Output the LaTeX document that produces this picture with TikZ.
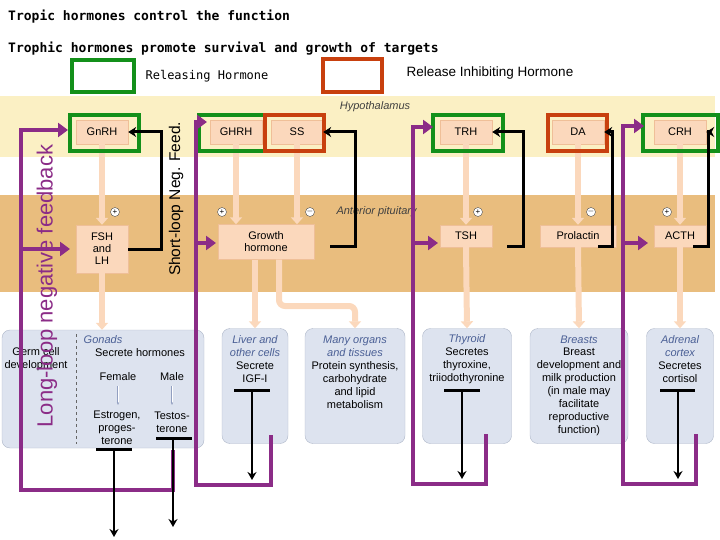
\documentclass[tikz,border=0pt]{standalone}
\usepackage{fontspec}
\setmainfont{Liberation Sans}
\newfontfamily\monob{DejaVu Sans Mono}
\usetikzlibrary{arrows.meta}
\definecolor{hyp}{HTML}{FBF0C4}
\definecolor{pit}{HTML}{E9BD7E}
\definecolor{peach}{HTML}{FBD8BC}
\definecolor{peachb}{HTML}{EFBF98}
\definecolor{tgt}{HTML}{DDE3EF}
\definecolor{tgtb}{HTML}{AEB7C9}
\definecolor{purp}{HTML}{8B2C87}
\definecolor{grn}{HTML}{13901A}
\definecolor{org}{HTML}{C8400E}
\definecolor{bluet}{HTML}{4A5F95}
\tikzset{
  hbox/.style={draw=peachb,fill=peach,font=\fontsize{11}{12}\selectfont,inner sep=0pt,align=center},
  tbox/.style={draw=tgtb,fill=tgt,rounded corners=8pt,inner sep=0pt},
  ttxt/.style={font=\fontsize{11}{13}\selectfont,align=center,inner sep=0pt},
  ital/.style={font=\fontsize{11}{13}\selectfont\itshape,text=bluet,align=center,inner sep=0pt},
  gfr/.style={draw=grn,line width=3.5pt},
  ofr/.style={draw=org,line width=3.5pt},
  pale/.style={draw=peach,line width=6pt,rounded corners=6pt,-{Triangle[length=7pt,width=12pt]}},
  ploop/.style={draw=purp,line width=4pt},
  parr/.style={draw=purp,line width=4pt,-{Triangle[length=10pt,width=14pt]}},
  bloop/.style={draw=black,line width=3pt,-{Stealth[length=8pt,width=10pt]}},
  bbar/.style={draw=black,line width=3pt},
  barr/.style={draw=black,line width=2.5pt,-{Stealth[length=8pt,width=9pt]}},
  pm/.style={circle,draw=black!70,fill=white,inner sep=0pt,minimum size=9pt,font=\fontsize{8}{8}\selectfont}
}
\begin{document}
\begin{tikzpicture}[x=1pt,y=-1pt]
\useasboundingbox (0,0) rectangle (720,540);
% bands
\fill[hyp] (0,96) rectangle (715,157);
\fill[pit] (0,195) rectangle (715,292);
\node[font=\fontsize{11}{11}\selectfont\itshape,text=black!75] (hyplab) at (375,107) {Hypothalamus};
\node[font=\fontsize{11}{11}\selectfont\itshape,text=black!75,anchor=west] (pitlab) at (333,212) {Anterior pituitary};
% titles
\node[anchor=west,font=\monob\bfseries\fontsize{13}{13}\selectfont,inner sep=0pt] (t1) at (8,17) {Tropic hormones control the function};
\node[anchor=west,font=\monob\bfseries\fontsize{13}{13}\selectfont,inner sep=0pt] (t2) at (8,49) {Trophic hormones promote survival and growth of targets};
% legend
\draw[gfr] (72,60) rectangle (134,92);
\node[font=\monob\fontsize{12}{12}\selectfont] (rl) at (207,76) {Releasing Hormone};
\draw[ofr] (323,59) rectangle (382,92);
\node[font=\fontsize{13.5}{14}\selectfont] (ril) at (490,73) {Release Inhibiting Hormone};
% target boxes
\node[tbox,minimum width=202pt,minimum height=118pt] (gon) at (103,389) {};
\draw[dashed,black!60] (76,334) -- (76,444);
\node[tbox,minimum width=66pt,minimum height=115pt] (liv) at (255,386) {};
\node[tbox,minimum width=100pt,minimum height=115pt] (many) at (355,386) {};
\node[tbox,minimum width=89pt,minimum height=115pt] (thy) at (467,386) {};
\node[tbox,minimum width=98pt,minimum height=115pt] (brs) at (579,386) {};
\node[tbox,minimum width=67pt,minimum height=115pt] (adr) at (680,386) {};
% hormone boxes
\node[hbox,minimum width=52pt,minimum height=24pt] (gnrh) at (102,132) {GnRH};
\node[hbox,minimum width=52pt,minimum height=24pt] (ghrh) at (236,132) {GHRH};
\node[hbox,minimum width=52pt,minimum height=24pt] (ss) at (297,132) {SS};
\node[hbox,minimum width=52pt,minimum height=24pt] (trh) at (466,132) {TRH};
\node[hbox,minimum width=52pt,minimum height=24pt] (da) at (578,132) {DA};
\node[hbox,minimum width=52pt,minimum height=24pt] (crh) at (680,132) {CRH};
\node[hbox,minimum width=52pt,minimum height=48pt] (fsh) at (102,249) {FSH\\and\\LH};
\node[hbox,minimum width=96pt,minimum height=35pt] (gh) at (266,242) {Growth\\hormone};
\node[hbox,minimum width=52pt,minimum height=22pt] (tsh) at (466,236) {TSH};
\node[hbox,minimum width=76pt,minimum height=22pt] (prl) at (578,236) {Prolactin};
\node[hbox,minimum width=52pt,minimum height=22pt] (acth) at (680,236) {ACTH};
% pale arrows
\draw[pale] (gnrh.south) -- (fsh.north);
\draw[pale] (ghrh.south) -- (ghrh.south |- gh.north);
\draw[pale] (ss.south) -- (ss.south |- gh.north);
\draw[pale] (trh.south) -- (tsh.north);
\draw[pale] (da.south) -- (prl.north);
\draw[pale] (crh.south) -- (acth.north);
\draw[pale] (fsh.south) -- (fsh.south |- gon.north);
\draw[pale] (liv.north |- gh.south) -- (liv.north);
\draw[pale] (279,259.5) -- (279,306) -- (355,306) -- (many.north);
\draw[pale] (tsh.south) -- (thy.north);
\draw[pale] (prl.south) -- (brs.north);
\draw[pale] (acth.south) -- (adr.north);
% plus/minus
\node[pm] (p1) at (115,212) {+};
\node[pm] (p2) at (222,212) {+};
\node[pm] (m1) at (310,212) {$-$};
\node[pm] (p3) at (478,212) {+};
\node[pm] (m2) at (591,212) {$-$};
\node[pm] (p4) at (667,212) {+};
% frames
\draw[gfr] (70,115) rectangle (139,151);
\draw[gfr] (199,115) rectangle (265,151);
\draw[ofr] (265,115) rectangle (324,151);
\draw[gfr] (433,115) rectangle (503,151);
\draw[ofr] (548,115) rectangle (607,151);
\draw[gfr] (643,115) rectangle (718,151);
% target texts
\node[ital] (g1) at (103,340) {Gonads};
\node[ttxt] (g2) at (140,353) {Secrete hormones};
\node[ttxt] (g3) at (36,359) {Germ cell\\development};
\node[ttxt] (g4) at (118,377) {Female};
\node[ttxt] (g5) at (172,377) {Male};
\draw[bluet!60,double,-{Stealth[length=3pt]}] (118,386) -- (118,405);
\draw[bluet!60,double,-{Stealth[length=3pt]}] (172,386) -- (172,405);
\node[ttxt] (est) at (117,428) {Estrogen,\\proges-\\terone};
\node[ttxt] (tes) at (172,422) {Testos-\\terone};
\node[ital] (l1) at (255,346) {Liver and\\other cells};
\node[ttxt] (l2) at (255,372) {Secrete\\IGF-I};
\node[ital] (m1t) at (355,346) {Many organs\\and tissues};
\node[ttxt] (m2t) at (355,385) {Protein synthesis,\\carbohydrate\\and lipid\\metabolism};
\node[ital] (th1) at (467,340) {Thyroid};
\node[ttxt] (th2) at (467,366) {Secretes\\thyroxine,\\triiodothyronine};
\node[ital] (b1) at (579,340) {Breasts};
\node[ttxt] (b2) at (579,392) {Breast\\development and\\milk production\\(in male may\\facilitate\\reproductive\\function)};
\node[ital] (a1) at (680,346) {Adrenal\\cortex};
\node[ttxt] (a2) at (680,372) {Secretes\\cortisol};
% short loops
\draw[bloop] (fsh.east) -- (161,249) -- (161,132) -- (gnrh.east);
\draw[bloop] (330,246) -- (355,246) -- (355,132) -- (ss.east);
\draw[bloop] (507,246) -- (523,246) -- (523,132) -- (trh.east);
\draw[bloop] (598,246) -- (612,246) -- (612,132) -- (da.east);
\draw[bloop] (693,246) -- (708,246) -- (708,132) -- (crh.east);
% long loops
\draw[ploop] (21,130) -- (21,490) -- (173,490) -- (173,450);
\draw[parr] (19,130) -- (68,130);
\draw[parr] (19,249) -- (70,249);
\draw[ploop] (196,122) -- (196,485) -- (271,485) -- (271,435);
\draw[parr] (194,122) -- (207,122);
\draw[parr] (194,243) -- (216,243);
\draw[ploop] (413,127) -- (413,484) -- (486,484) -- (486,434);
\draw[parr] (411,127) -- (433,127);
\draw[parr] (411,243) -- (438,243);
\draw[ploop] (623,126) -- (623,484) -- (696,484) -- (696,434);
\draw[parr] (621,126) -- (644,126);
\draw[parr] (621,243) -- (648,243);
% T bars and down arrows
\draw[bbar] (96,449) -- (132,449);
\draw[barr] (114,449) -- (114,537);
\draw[bbar] (156,438) -- (192,438);
\draw[barr] (173,438) -- (173,527);
\draw[bbar] (234,390) -- (270,390);
\draw[barr] (252,390) -- (252,480);
\draw[bbar] (444,390) -- (480,390);
\draw[barr] (462,390) -- (462,479);
\draw[bbar] (660,390) -- (695,390);
\draw[barr] (678,390) -- (678,479);
% rotated labels
\node[rotate=90,text=purp,font=\fontsize{22}{22}\selectfont] (ll) at (47,286) {Long-loop negative feedback};
\node[rotate=90,font=\fontsize{15.5}{16}\selectfont] (sl) at (176,199) {Short-loop Neg. Feed.};
\end{tikzpicture}
\end{document}
